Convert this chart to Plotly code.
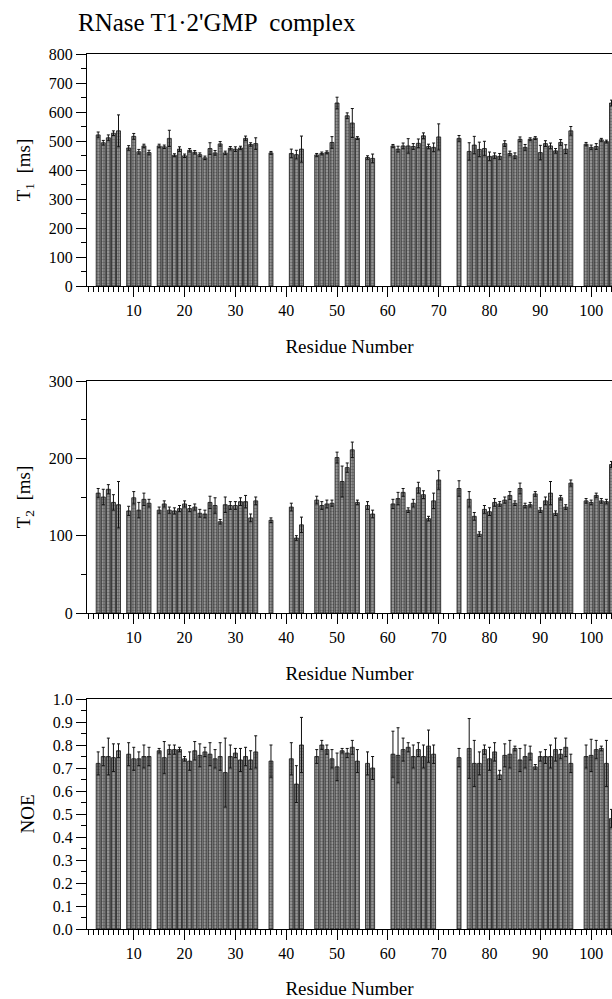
import plotly.graph_objects as go

# ---------------- data ----------------
t1_res = [3,4,5,6,7, 9,10,11,12,13,
          15,16,17,18,19,20,21,22,23,24,25,26,27,28,29,30,31,32,33,34,
          37, 41,42,43, 46,47,48,49,50, 52,53,54, 56,57,
          61,62,63,64,65,66,67,68,69,70, 74,
          76,77,78,79,80,81,82,83,84,85,86,87,88,89,90,91,92,93,94,95,96,
          99,100,101,102,103,104]
t1_val = [521,494,511,527,535, 476,516,463,483,460,
          483,480,509,451,472,449,468,461,453,442,474,459,490,459,475,472,476,509,488,491,
          459, 457,453,472, 452,457,461,495,631, 587,562,510, 443,440,
          483,472,483,483,481,492,518,481,478,514, 509,
          464,486,471,474,447,449,447,491,457,449,506,478,506,510,460,491,483,466,495,472,535,
          489,478,481,504,498,631]
t1_err = [10,8,10,8,55, 8,10,8,6,8,
          6,6,28,5,8,6,6,6,6,6,20,8,8,6,6,8,6,8,6,20,
          5, 15,15,45, 5,5,5,20,20, 10,50,5, 6,15,
          5,10,10,25,10,15,10,8,15,45, 10,
          30,30,25,25,15,10,10,10,8,10,8,10,5,5,25,10,10,8,10,15,15,
          6,8,10,5,5,10]

t2_res = [3,4,5,6,7, 9,10,11,12,13,
          15,16,17,18,19,20,21,22,23,24,25,26,27,28,29,30,31,32,33,34,
          37, 41,42,43, 46,47,48,49,50,51,52,53,54, 56,57,
          61,62,63,64,65,66,67,68,69,70, 74,
          76,77,78,79,80,81,82,83,84,85,86,87,88,89,90,91,92,93,94,95,96,
          99,100,101,102,103,104]
t2_val = [155,150,160,143,140, 132,149,133,147,142,
          133,141,133,132,135,141,135,137,129,128,143,139,118,140,139,139,144,144,123,145,
          120, 137,97,114, 146,139,141,142,201,170,188,211,143, 139,128,
          141,148,156,133,142,162,153,122,145,172, 161,
          147,125,102,134,131,143,141,146,152,142,161,139,140,154,133,145,155,129,149,137,168,
          145,143,152,145,144,192]
t2_err = [6,10,6,10,30, 6,8,10,8,5,
          4,4,4,4,4,4,4,4,5,5,8,10,3,10,5,5,5,8,5,5,
          3, 5,3,10, 5,5,5,4,7,20,6,10,3, 5,5,
          6,8,5,3,5,7,5,3,10,12, 10,
          10,5,3,5,5,5,3,4,5,3,7,3,3,3,3,5,15,3,3,3,4,
          3,3,3,3,3,4]

noe_res = [3,4,5,6,7, 9,10,11,12,13,
           15,16,17,18,19,20,21,22,23,24,25,26,27,28,29,30,31,32,33,34,
           37, 41,42,43, 46,47,48,49,50,51,52,53,54, 56,57,
           61,62,63,64,65,66,67,68,69, 74,
           76,77,78,79,80,81,82,83,84,85,86,87,88,89,90,91,92,93,94,95,96,
           99,100,101,102,103,104]
noe_val = [0.72,0.75,0.75,0.745,0.775, 0.76,0.74,0.74,0.75,0.75,
           0.775,0.745,0.78,0.78,0.78,0.74,0.73,0.775,0.755,0.77,0.76,0.74,0.75,0.68,0.75,0.765,0.735,0.75,0.735,0.77,
           0.73, 0.74,0.63,0.80, 0.75,0.80,0.78,0.74,0.705,0.775,0.765,0.79,0.73, 0.72,0.70,
           0.76,0.755,0.78,0.79,0.75,0.78,0.75,0.795,0.76, 0.745,
           0.785,0.72,0.72,0.78,0.74,0.77,0.67,0.755,0.76,0.785,0.735,0.75,0.765,0.705,0.75,0.75,0.75,0.78,0.76,0.79,0.72,
           0.75,0.755,0.78,0.785,0.72,0.48]
noe_err = [0.05,0.04,0.08,0.06,0.03, 0.05,0.05,0.03,0.05,0.04,
           0.01,0.07,0.02,0.02,0.01,0.01,0.04,0.04,0.05,0.02,0.05,0.04,0.06,0.15,0.05,0.02,0.05,0.04,0.04,0.07,
           0.07, 0.07,0.08,0.12, 0.03,0.02,0.02,0.04,0.06,0.01,0.02,0.03,0.05, 0.05,0.05,
           0.1,0.12,0.05,0.02,0.05,0.03,0.05,0.07,0.04, 0.04,
           0.13,0.1,0.05,0.02,0.05,0.04,0.02,0.05,0.06,0.01,0.05,0.05,0.03,0.01,0.02,0.03,0.05,0.05,0.02,0.04,0.04,
           0.05,0.07,0.04,0.01,0.1,0.04]

title_text = "RNase T1\u00b72'GMP  complex"
x_title = "Residue Number"
y_titles = ["T<sub>1</sub>  [ms]", "T<sub>2</sub>  [ms]", "NOE"]

# ---------------- figure ----------------
FONT = "Liberation Serif"
W, H = 612, 999
ML, MR, MT, MB = 87, 0, 54, 70
ph = H - MT - MB
def dom(top_px, bot_px):
    return [(H - MB - bot_px) / ph, (H - MB - top_px) / ph]

domains = [dom(54, 286), dom(381, 613), dom(699, 929)]

fig = go.Figure()
series = [(t1_res, t1_val, t1_err), (t2_res, t2_val, t2_err), (noe_res, noe_val, noe_err)]
for i, (r, v, e) in enumerate(series):
    sfx = "" if i == 0 else str(i + 1)
    fig.add_trace(go.Bar(
        x=r, y=v, width=0.78,
        marker=dict(color="#8e8e8e",
                    line=dict(color="#111111", width=0.8),
                    pattern=dict(shape=".", fgcolor="#2a2a2a", bgcolor="#a0a0a0",
                                 size=3, solidity=0.5)),
        error_y=dict(type="data", array=e, color="#111111", thickness=1, width=1.5),
        xaxis="x" + sfx, yaxis="y" + sfx, showlegend=False))

y_ranges = [[0, 800], [0, 300], [0, 1.0]]
y_dticks = [100, 100, 0.1]
y_minor = [50, 50, 0.05]
y_fmt = ["", "", ".1f"]

layout = dict(
    width=W, height=H,
    margin=dict(l=ML, r=MR, t=MT, b=MB),
    paper_bgcolor="white", plot_bgcolor="white",
    font=dict(family=FONT, color="black", size=16),
    bargap=0.2,
    title=dict(text=title_text, x=78 / W, xanchor="left", xref="container",
               y=1 - 22 / H, yanchor="middle", yref="container",
               font=dict(family=FONT, size=25, color="black")),
)
for i in range(3):
    sfx = "" if i == 0 else str(i + 1)
    layout["xaxis" + sfx] = dict(
        domain=[0, 1], anchor="y" + sfx, range=[0.8, 104.1],
        tick0=0, dtick=10, ticks="outside", ticklen=10, tickwidth=1, tickcolor="black",
        minor=dict(dtick=1, tick0=0, ticks="outside", ticklen=5, tickwidth=1, tickcolor="black"),
        showline=True, linecolor="black", linewidth=1, mirror=True,
        showgrid=False, zeroline=False,
        tickfont=dict(family=FONT, size=16, color="black"),
        title=dict(text=x_title, font=dict(family=FONT, size=19, color="black"), standoff=21),
    )
    layout["yaxis" + sfx] = dict(
        domain=domains[i], anchor="x" + sfx, range=y_ranges[i],
        tick0=0, dtick=y_dticks[i], tickformat=y_fmt[i],
        ticks="outside", ticklen=10, tickwidth=1, tickcolor="black",
        minor=dict(dtick=y_minor[i], tick0=0, ticks="outside", ticklen=5, tickwidth=1, tickcolor="black"),
        showline=True, linecolor="black", linewidth=1,
        showgrid=False, zeroline=False,
        tickfont=dict(family=FONT, size=16, color="black"),
        title=dict(text=y_titles[i], font=dict(family=FONT, size=19, color="black"), standoff=13),
    )
fig.update_layout(**layout)
fig.write_html("out.html")
